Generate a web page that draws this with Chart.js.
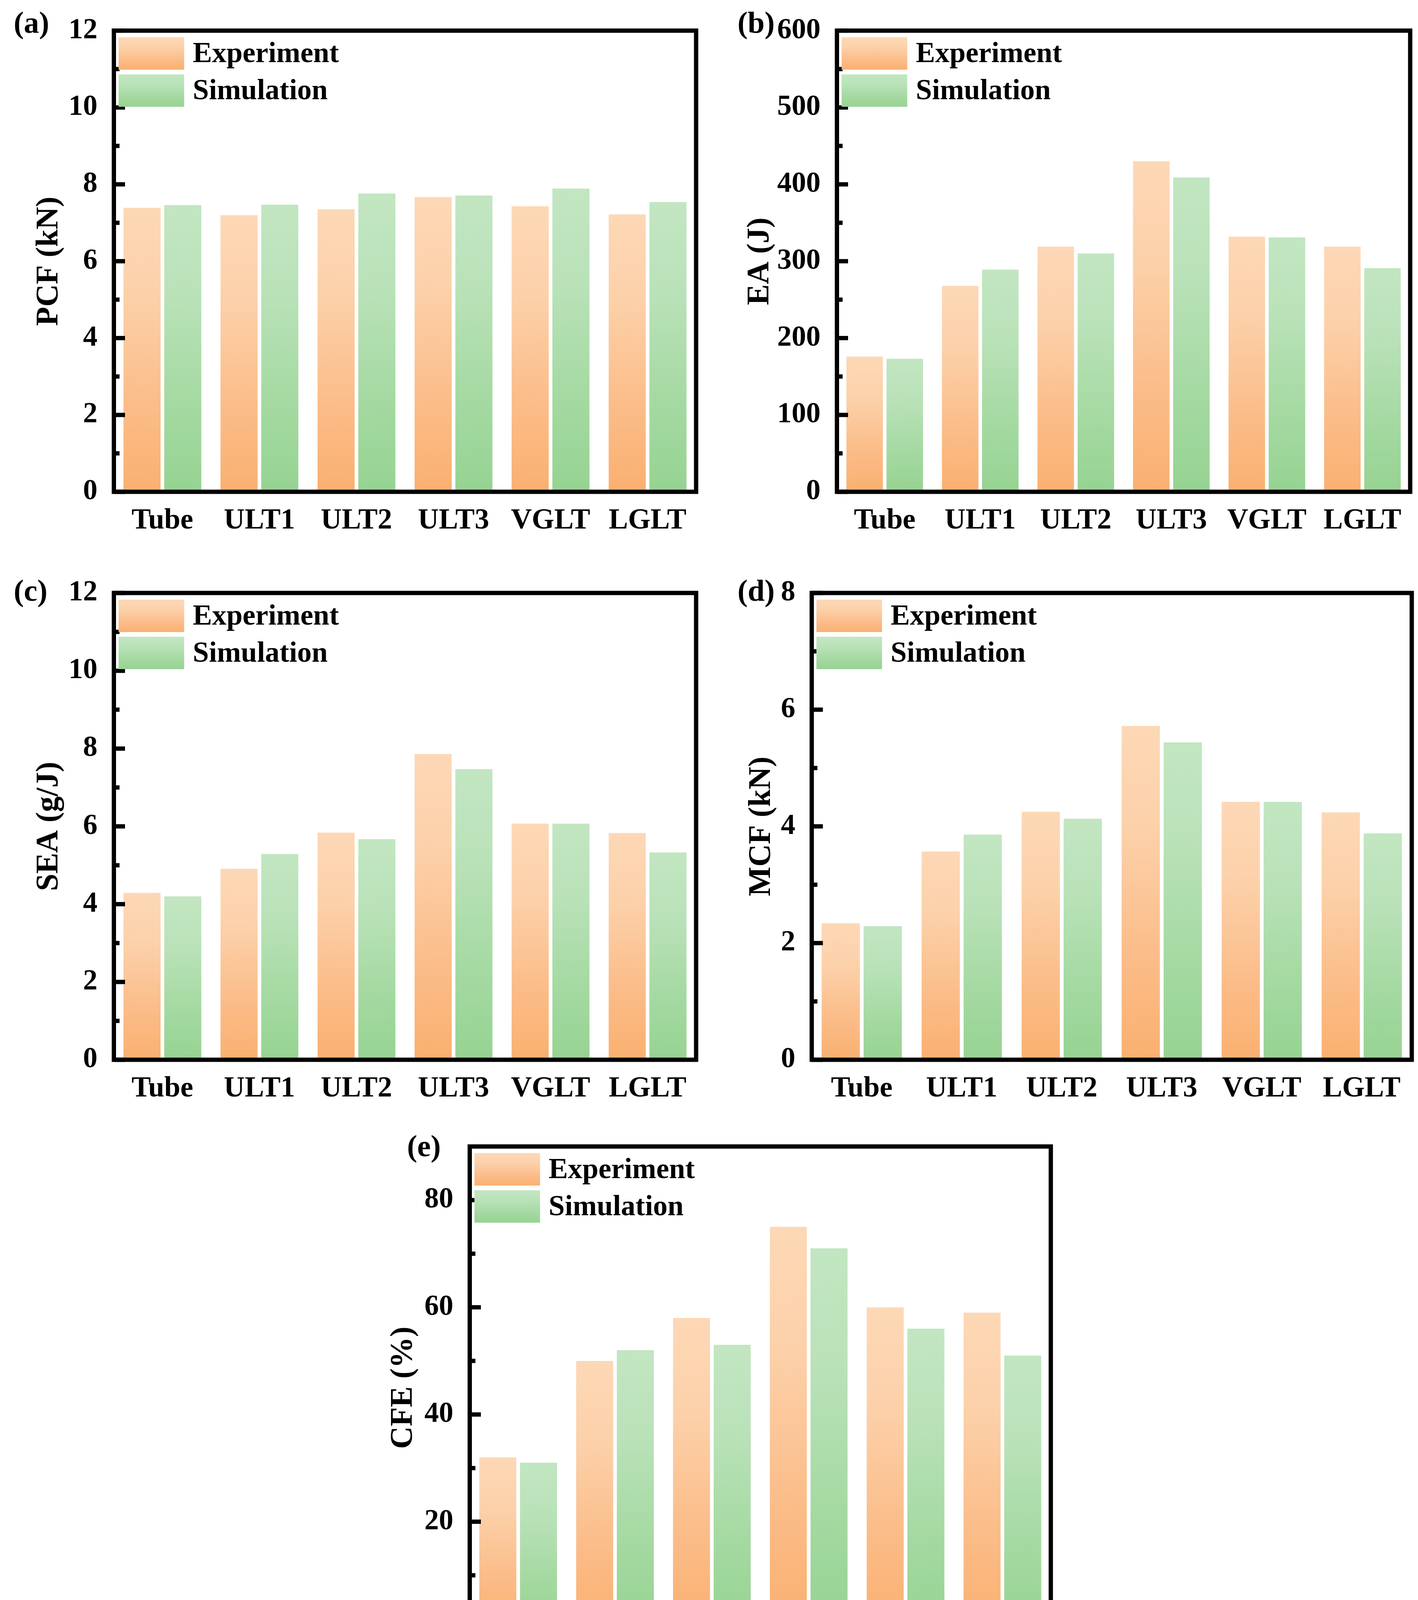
<!DOCTYPE html>
<html>
<head>
<meta charset="utf-8">
<script src="https://cdn.jsdelivr.net/npm/chart.js@4.4.1/dist/chart.umd.min.js"></script>
<style>
  html, body { margin: 0; padding: 0; background: #fff; }
  #page { position: relative; width: 3630px; height: 4277px; overflow: hidden; }
  canvas { position: absolute; }
</style>
</head>
<body>
<div id="page">
  <canvas id="ca"></canvas>
  <canvas id="cb"></canvas>
  <canvas id="cc"></canvas>
  <canvas id="cd"></canvas>
  <canvas id="ce"></canvas>
</div>
<script>
// data
const categories = ["Tube", "ULT1", "ULT2", "ULT3", "VGLT", "LGLT"];
const seriesNames = ["Experiment", "Simulation"];

const pcfExp = [7.39, 7.20, 7.35, 7.67, 7.43, 7.22];
const pcfSim = [7.46, 7.47, 7.76, 7.71, 7.89, 7.54];
const eaExp = [176, 268, 319, 430, 332, 319];
const eaSim = [173, 289, 310, 409, 331, 291];
const seaExp = [4.29, 4.91, 5.84, 7.86, 6.07, 5.83];
const seaSim = [4.20, 5.29, 5.67, 7.47, 6.07, 5.33];
const mcfExp = [2.34, 3.57, 4.25, 5.72, 4.42, 4.24];
const mcfSim = [2.29, 3.86, 4.13, 5.44, 4.42, 3.88];
const cfeExp = [32, 50, 58, 75, 60, 59];
const cfeSim = [31, 52, 53, 71, 56, 51];

const pcfTicks = [0, 2, 4, 6, 8, 10, 12];
const eaTicks = [0, 100, 200, 300, 400, 500, 600];
const seaTicks = [0, 2, 4, 6, 8, 10, 12];
const mcfTicks = [0, 2, 4, 6, 8];
const cfeTicks = [0, 20, 40, 60, 80];

const FONT = "Liberation Serif";
const orangeStops = ["#FDD8B6", "#FCD1AA", "#FBBC88", "#FAB070"];
const greenStops = ["#C2E6C1", "#BAE2B9", "#A4D9A1", "#96D392"];
const stopPos = [0, 0.3, 0.7, 1];

function fillGrad(ctx, top, bottom, stops) {
  const g = ctx.createLinearGradient(0, top, 0, bottom);
  stops.forEach((c, i) => g.addColorStop(stopPos[i], c));
  return g;
}

function barColor(stops) {
  return function(c) {
    const chart = c.chart;
    if (c.type !== "data" || !chart.chartArea) return stops[2];
    const y = chart.scales.y;
    return fillGrad(chart.ctx, y.getPixelForValue(c.raw), y.getPixelForValue(0), stops);
  };
}

// ticks inside, box, legend and panel letter
const panelDeco = {
  id: "panelDeco",
  afterDraw(chart, args, o) {
    const ctx = chart.ctx;
    const a = chart.chartArea;
    const y = chart.scales.y;
    const lw = 11;
    ctx.save();
    ctx.fillStyle = "#000";
    y.ticks.forEach(t => {
      ctx.fillRect(a.left, y.getPixelForValue(t.value) - lw / 2, 28.5, lw);
    });
    o.minor.forEach(v => {
      ctx.fillRect(a.left, y.getPixelForValue(v) - lw / 2, 14.5, lw);
    });
    // legend
    const sx = a.left + 12, sw = 168, sh = 83, pitch = 95;
    const sets = chart.data.datasets;
    ctx.font = "bold 74px '" + FONT + "'";
    ctx.textBaseline = "middle";
    ctx.textAlign = "left";
    sets.forEach((ds, i) => {
      const sy = a.top + 17 + i * pitch;
      ctx.fillStyle = fillGrad(ctx, sy, sy + sh, i === 0 ? orangeStops : greenStops);
      ctx.fillRect(sx, sy, sw, sh);
      ctx.fillStyle = "#000";
      ctx.fillText(ds.label, sx + sw + 22, sy + sh / 2 + 3);
    });
    ctx.lineWidth = lw;
    ctx.strokeStyle = "#000";
    ctx.strokeRect(a.left, a.top, a.right - a.left, a.bottom - a.top);
    ctx.fillStyle = "#000";
    ctx.font = "bold 78px '" + FONT + "'";
    ctx.fillText(o.tag, o.tagX, o.tagY);
    ctx.restore();
  }
};

const panels = [
  { id: "ca", exp: pcfExp, sim: pcfSim, ticks: pcfTicks, max: 12, title: "PCF (kN)", tag: "(a)",
    box: [0, 0, 1815, 1420], area: [291.5, 64, 1782, 1259], titleX: 126, tagXY: [35, 64] },
  { id: "cb", exp: eaExp, sim: eaSim, ticks: eaTicks, max: 600, title: "EA (J)", tag: "(b)",
    box: [1815, 0, 1815, 1420], area: [2142.5, 64, 3610, 1259], titleX: 1946, tagXY: [1888, 64] },
  { id: "cc", exp: seaExp, sim: seaSim, ticks: seaTicks, max: 12, title: "SEA (g/J)", tag: "(c)",
    box: [0, 1420, 1815, 1440], area: [291.5, 1518, 1782, 2713], titleX: 126, tagXY: [35, 1518] },
  { id: "cd", exp: mcfExp, sim: mcfSim, ticks: mcfTicks, max: 8, title: "MCF (kN)", tag: "(d)",
    box: [1815, 1420, 1815, 1440], area: [2078, 1518, 3614, 2713], titleX: 1950, tagXY: [1888, 1518] },
  { id: "ce", exp: cfeExp, sim: cfeSim, ticks: cfeTicks, max: 90, title: "CFE (%)", tag: "(e)",
    box: [950, 2850, 1800, 1427], area: [1202.5, 2935, 2690, 4170], titleX: 1033, tagXY: [1042, 2940] }
];

function minorTicks(ticks, max) {
  const out = [];
  const step = ticks[1] - ticks[0];
  ticks.forEach(t => { if (t + step / 2 < max) out.push(t + step / 2); });
  return out;
}

panels.forEach(p => {
  const [cx, cy, w, h] = p.box;
  const [L, T, R, B] = p.area;
  const cv = document.getElementById(p.id);
  cv.width = w; cv.height = h;
  cv.style.left = cx + "px"; cv.style.top = cy + "px";
  cv.style.width = w + "px"; cv.style.height = h + "px";
  const padLeft = p.titleX - 40 - cx;
  const yWidth = L - cx - padLeft;
  const xHeight = cy + h - B;

  new Chart(cv, {
    type: "bar",
    data: {
      labels: categories,
      datasets: [
        { label: seriesNames[0], data: p.exp, backgroundColor: barColor(orangeStops), borderWidth: 0 },
        { label: seriesNames[1], data: p.sim, backgroundColor: barColor(greenStops), borderWidth: 0 }
      ]
    },
    options: {
      responsive: false,
      devicePixelRatio: 1,
      animation: false,
      categoryPercentage: 0.84,
      barPercentage: 0.91,
      layout: { padding: { left: padLeft, top: T - cy, right: cx + w - R, bottom: 0 } },
      plugins: {
        legend: { display: false },
        tooltip: { enabled: false },
        panelDeco: { minor: minorTicks(p.ticks, p.max), tag: p.tag, tagX: p.tagXY[0] - cx, tagY: p.tagXY[1] - cy }
      },
      scales: {
        x: {
          grid: { display: false },
          border: { display: false },
          ticks: { color: "#000", padding: 22, maxRotation: 0, autoSkip: false,
                   font: { family: FONT, size: 74, weight: "bold" } },
          afterFit: s => { s.height = xHeight; }
        },
        y: {
          min: 0,
          max: p.max,
          grid: { display: false },
          border: { display: false },
          ticks: { color: "#000", padding: 34, font: { family: FONT, size: 74, weight: "bold" } },
          afterBuildTicks: s => { s.ticks = p.ticks.map(v => ({ value: v })); },
          title: { display: true, text: p.title, color: "#000", padding: 0,
                   font: { family: FONT, size: 80, weight: "bold", lineHeight: 1 } },
          afterFit: s => { s.width = yWidth; }
        }
      }
    },
    plugins: [panelDeco]
  });
});
</script>
</body>
</html>
